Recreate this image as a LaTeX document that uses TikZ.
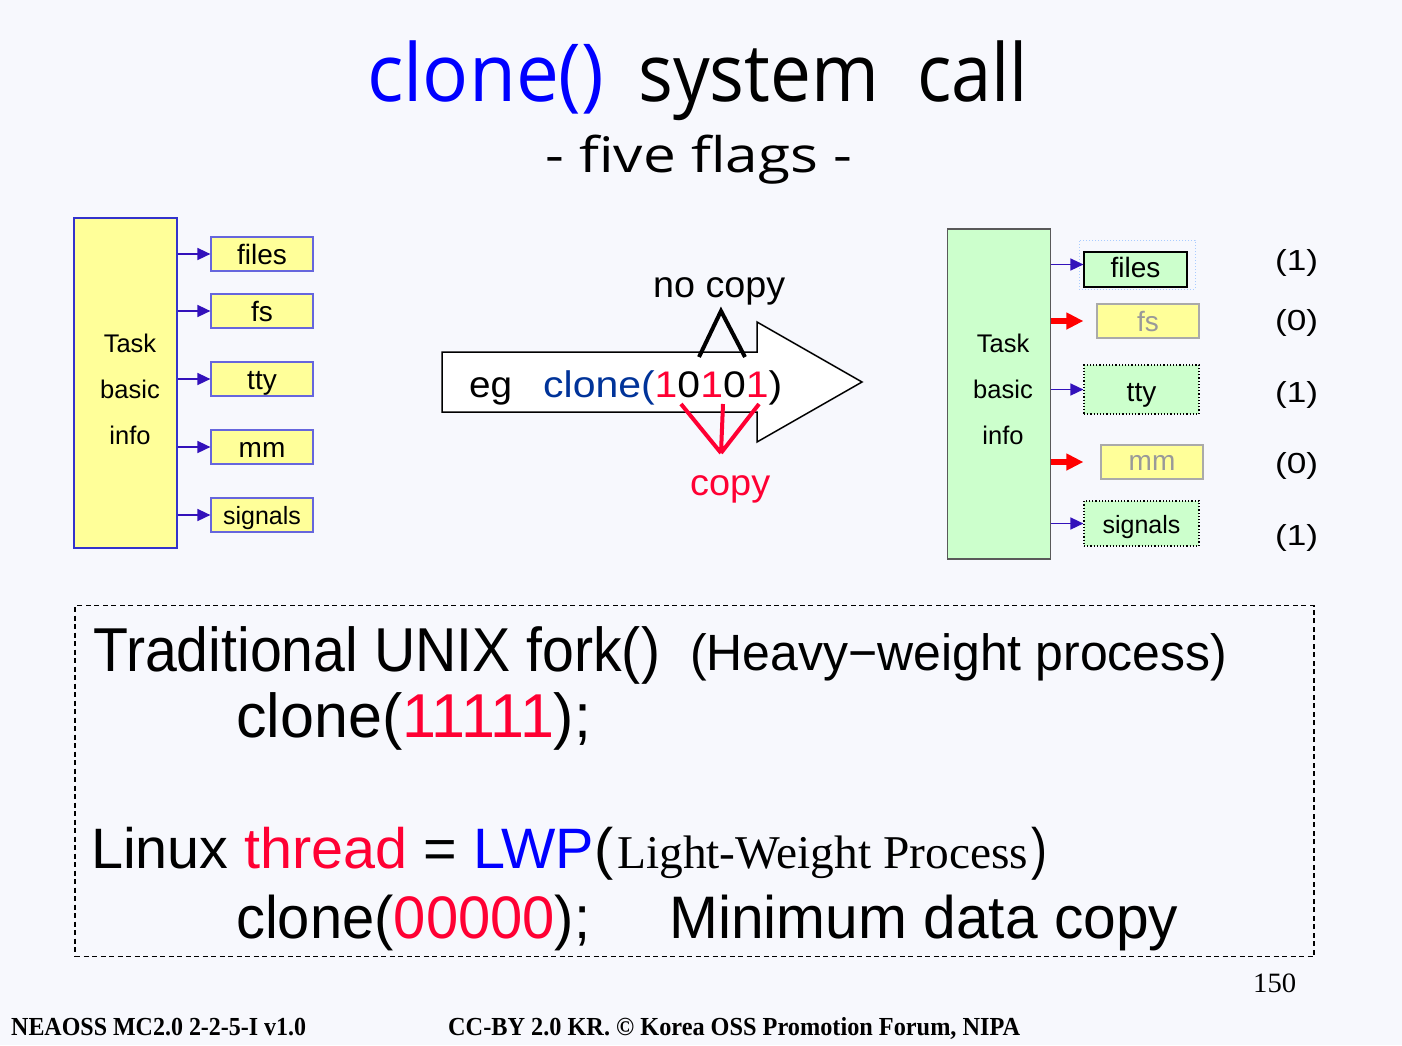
\documentclass[tikz,border=0pt]{standalone}
\usepackage{fontspec}
\usepackage{graphicx}
\usetikzlibrary{arrows.meta}
\setmainfont{Liberation Sans}
\newfontfamily\titlefont{Open Sans}
\newfontfamily\seriffont{Liberation Serif}
\definecolor{bgc}{HTML}{F7F8FD}
\definecolor{tblue}{HTML}{0000FF}
\definecolor{dblue}{HTML}{003399}
\definecolor{fred}{HTML}{FF0033}
\definecolor{ayellow}{HTML}{FFFF99}
\definecolor{agreen}{HTML}{CCFFCC}
\definecolor{lborder}{HTML}{3333CC}
\definecolor{sborder}{HTML}{6666DD}
\definecolor{arrblue}{HTML}{3311BB}
\definecolor{grayt}{HTML}{999999}
\definecolor{grayb}{HTML}{AAAAAA}
\definecolor{dotblue}{HTML}{AACCFF}
\newsavebox\fitbx
\newlength\fitlen
\newcommand\fitw[2]{\sbox\fitbx{#2}\setlength\fitlen{\wd\fitbx}\pgfmathsetmacro\fitr{#1/\fitlen}\scalebox{\fitr}[1]{\usebox\fitbx}}
\begin{document}
\begin{tikzpicture}[x=1pt,y=-1pt,
  txt/.style={inner sep=0pt,anchor=base west},
  bigbox/.style={minimum width=103pt,minimum height=330pt,inner sep=0pt,line width=1.2pt},
  smallbox/.style={minimum width=102pt,minimum height=34pt,inner sep=0pt,line width=1.2pt,
     font=\fontsize{28}{28}\selectfont,text height=21pt,text depth=0pt},
  sigfont/.style={font=\fontsize{25}{25}\selectfont},
  tasktext/.style={align=center,inner sep=0pt,font=\fontsize{25.5}{46}\selectfont},
  barrow/.style={draw=arrblue,line width=1.6pt,-{Triangle[length=13pt,width=12pt]}},
  rarrow/.style={draw=red,line width=6pt,-{Triangle[length=17pt,width=16pt]}},
  flagtxt/.style={txt,font=\fontsize{29}{29}\selectfont}
]
\fill[bgc] (0,0) rectangle (1402,1045);
\useasboundingbox (0,0) rectangle (1402,1045);

% title
\node[txt] (t1) at (367,101) {\fitw{237}{\titlefont\fontsize{80}{80}\selectfont\textcolor{tblue}{clone()}}};
\node[txt] (t2) at (638,101) {\fitw{241}{\titlefont\fontsize{80}{80}\selectfont system}};
\node[txt] (t3) at (917,101) {\fitw{111}{\titlefont\fontsize{80}{80}\selectfont call}};
\node[txt] (sub) at (545,172) {\fitw{307}{\titlefont\fontsize{49}{49}\selectfont - five flags -}};

% left structure
\node[bigbox,draw=lborder,fill=ayellow] (ltask) at (125.5,383) {};
\node[tasktext] (ltasktxt) at (130,389) {Task\\basic\\info};
\node[smallbox,draw=sborder,fill=ayellow] (lfiles) at (262,254) {files};
\node[smallbox,draw=sborder,fill=ayellow] (lfs) at (262,311) {fs};
\node[smallbox,draw=sborder,fill=ayellow] (ltty) at (262,379) {tty};
\node[smallbox,draw=sborder,fill=ayellow] (lmm) at (262,447) {mm};
\node[smallbox,draw=sborder,fill=ayellow,sigfont,text height=19pt] (lsig) at (262,515) {signals};
\foreach \b in {lfiles,lfs,ltty,lmm,lsig}
  \draw[barrow] (ltask.east |- \b.west) -- (\b.west);

% middle block arrow
\draw[line width=1.5pt,fill=white,line join=miter] (442,352) -- (757,352) -- (757,322) -- (862,382)
  -- (757,442) -- (757,412) -- (442,412) -- cycle;
\node[txt] (eg) at (469,397) {\fitw{43}{\fontsize{37}{37}\selectfont eg}};
\node[txt] (ex) at (543,397) {\fitw{239}{\fontsize{37}{37}\selectfont\textcolor{dblue}{clone(}\textcolor{fred}{1}0\textcolor{fred}{1}0\textcolor{fred}{1})}};
\node[txt] (nocopy) at (653,297) {\fitw{132}{\fontsize{37}{37}\selectfont no copy}};
\node[txt] (copy) at (690,495) {\fitw{80}{\fontsize{37}{37}\selectfont\textcolor{fred}{copy}}};
\coordinate (na) at (699,357);
\coordinate (nb) at (721,311);
\coordinate (nc) at (745,357);
\draw[line width=4pt] (na) -- (nb) -- (nc);
\coordinate (ca) at (681,404);
\coordinate (cb) at (723,404);
\coordinate (cc) at (759,404);
\coordinate (cm) at (721,453);
\draw[fred,line width=4pt] (ca) -- (cm) (cb) -- (cm) (cc) -- (cm);

% right structure
\node[bigbox,draw=black!65,fill=agreen] (rtask) at (999,394) {};
\node[tasktext] (rtasktxt) at (1003,389) {Task\\basic\\info};
\node[draw=dotblue,dotted,line width=1pt,minimum width=116pt,minimum height=49pt,inner sep=0pt] (rfilesgrp) at (1137,264.5) {};
\node[smallbox,draw=black,fill=agreen,minimum width=103pt,minimum height=35pt,text height=16pt] (rfiles) at (1135.5,269.5) {files};
\node[smallbox,draw=grayb,fill=ayellow,text=grayt] (rfs) at (1148,321) {fs};
\node[smallbox,draw=black,dotted,fill=agreen,minimum width=115pt,minimum height=49pt,text height=24pt] (rtty) at (1141.5,389.5) {tty};
\node[smallbox,draw=grayb,fill=ayellow,text=grayt,text height=16pt] (rmm) at (1152,462) {mm};
\node[smallbox,draw=black,dotted,fill=agreen,minimum width=115pt,minimum height=45pt,sigfont,text height=19pt] (rsig) at (1141.5,523.5) {signals};
\draw[barrow] (rtask.east |- rfilesgrp.west) -- (rfiles.west |- rfilesgrp.west);
\draw[rarrow] (rtask.east |- rfs.west) -- ([xshift=-13pt]rfs.west);
\draw[barrow] (rtask.east |- rtty.west) -- (rtty.west);
\draw[rarrow] (rtask.east |- rmm.west) -- ([xshift=-17pt]rmm.west);
\draw[barrow] (rtask.east |- rsig.west) -- (rsig.west);

\node[flagtxt] (f1) at (1275,270) {\fitw{43}{\fontsize{29}{29}\selectfont(1)}};
\node[flagtxt] (f2) at (1275,330) {\fitw{43}{\fontsize{29}{29}\selectfont(0)}};
\node[flagtxt] (f3) at (1275,402) {\fitw{43}{\fontsize{29}{29}\selectfont(1)}};
\node[flagtxt] (f4) at (1275,473) {\fitw{43}{\fontsize{29}{29}\selectfont(0)}};
\node[flagtxt] (f5) at (1275,545) {\fitw{43}{\fontsize{29}{29}\selectfont(1)}};

% dashed box
\node[draw,line width=1.3pt,dash pattern=on 5pt off 3.5pt,minimum width=1239pt,minimum height=351pt,inner sep=0pt] (dbox) at (694.5,781) {};
\node[txt] (l1a) at (93,671) {\fitw{567}{\fontsize{62}{62}\selectfont Traditional UNIX fork()}};
\node[txt] (l1b) at (690,670) {\fitw{537}{\fontsize{51}{51}\selectfont (Heavy−weight process)}};
\node[txt] (l2) at (236,737) {\fitw{355}{\fontsize{62}{62}\selectfont clone(\textcolor{fred}{11111});}};
\node[txt] (l3a) at (91,868) {\fitw{522}{\fontsize{57}{57}\selectfont Linux \textcolor{fred}{thread} = \textcolor{tblue}{LWP}(}};
\node[txt] (l3b) at (617,868) {\fitw{411}{\seriffont\fontsize{47}{47}\selectfont Light-Weight Process}};
\node[txt] (l3c) at (1031,868) {\fitw{16}{\fontsize{57}{57}\selectfont )}};
\node[txt] (l4a) at (236,938) {\fitw{354}{\fontsize{60}{60}\selectfont clone(\textcolor{fred}{00000});}};
\node[txt] (l4b) at (669,938) {\fitw{509}{\fontsize{60}{60}\selectfont Minimum data copy}};

% footer
\node[txt] (pg) at (1253,992) {\fitw{43}{\seriffont\fontsize{28}{28}\selectfont 150}};
\node[txt] (ft1) at (11,1035) {\fitw{295}{\seriffont\bfseries\fontsize{26}{26}\selectfont NEAOSS MC2.0 2-2-5-I v1.0}};
\node[txt] (ft2) at (448,1035) {\fitw{572}{\seriffont\bfseries\fontsize{26}{26}\selectfont CC-BY 2.0 KR. © Korea OSS Promotion Forum, NIPA}};
\end{tikzpicture}
\end{document}
